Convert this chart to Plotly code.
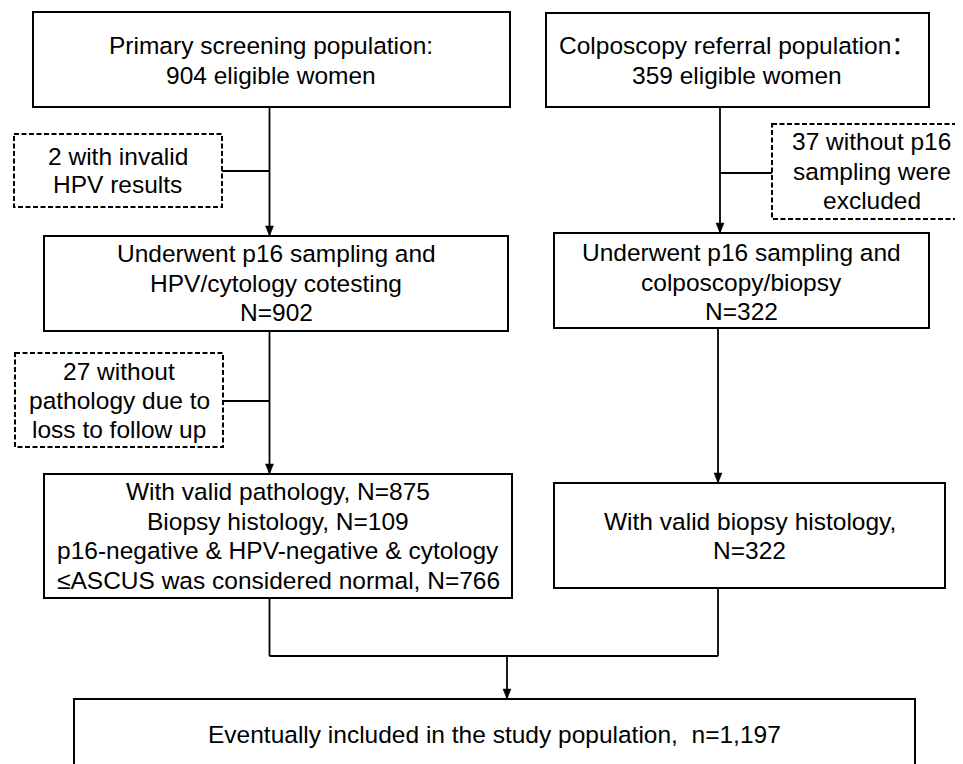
import plotly.graph_objects as go

W, H = 963, 764
OFF = 8  # page body margin offset

# ---- Flowchart content (text lines per box) ----
primary_lines = ["Primary screening population:", "904 eligible women"]
referral_lines = ["Colposcopy referral population：", "359 eligible women"]
excl1_lines = ["2 with invalid", "HPV results"]
excl2_lines = ["37 without p16", "sampling were", "excluded"]
cotest_lines = ["Underwent p16 sampling and", "HPV/cytology cotesting", "N=902"]
colpo_lines = ["Underwent p16 sampling and", "colposcopy/biopsy", "N=322"]
excl3_lines = ["27 without", "pathology due to", "loss to follow up"]
valid_left_lines = ["With valid pathology, N=875", "Biopsy histology, N=109",
                    "p16-negative & HPV-negative & cytology",
                    "≤ASCUS was considered normal, N=766"]
valid_right_lines = ["With valid biopsy histology,", "N=322"]
final_lines = ["Eventually included in the study population,  n=1,197"]

# ---- Layout geometry (pixels) ----
# box: (x0, y0, x1, y1, dashed, text_center_x, line_mid_ys, lines)
boxes = [
    (33, 12, 510, 107, False, 271, [45, 75], primary_lines),
    (546, 13, 929, 107, False, 737, [45, 75], referral_lines),
    (14, 134, 222, 207, True, 117.5, [156.5, 184.5], excl1_lines),
    (772, 124, 975, 219, True, 871.5, [141.5, 171.5, 200], excl2_lines),
    (44, 236, 508, 331, False, 276, [253, 283, 312], cotest_lines),
    (554, 233, 929, 328, False, 741.5, [252, 282, 311], colpo_lines),
    (15, 353, 223, 447, True, 119, [371.5, 400.5, 429.5], excl3_lines),
    (44, 474, 512, 598, False, 278, [491.5, 521, 550.5, 580], valid_left_lines),
    (554, 483, 945, 588, False, 749.5, [521, 550.5], valid_right_lines),
    (74, 699, 915, 780, False, 494.5, [734], final_lines),
]

# connector lines (x0, y0, x1, y1)
lines = [
    (269.5, 107, 269.5, 236),
    (222, 171, 269.5, 171),
    (720, 107, 720, 233),
    (720, 173, 772, 173),
    (269.5, 331, 269.5, 474),
    (223, 401, 269.5, 401),
    (718, 328, 718, 483),
    (269.5, 598, 269.5, 656),
    (718, 588, 718, 656),
    (269.5, 656, 718, 656),
    (507, 656, 507, 699),
]
# arrow tips (x, y)
arrows = [(269.5, 236), (720, 233), (269.5, 474), (718, 483), (507, 699)]

FONT = dict(family="Liberation Sans, Arial, Noto Sans CJK SC", size=24.5, color="#000000")

shapes = []
annotations = []
for (x0, y0, x1, y1, dashed, cx, ys, txt) in boxes:
    shapes.append(dict(type="rect", xref="x", yref="y", x0=x0, y0=y0, x1=x1, y1=y1,
                       line=dict(color="black", width=2,
                                 dash="5px,2.5px" if dashed else "solid"),
                       fillcolor="rgba(0,0,0,0)", layer="above"))
    for yy, t in zip(ys, txt):
        annotations.append(dict(x=cx, y=yy, xref="x", yref="y", text=t, showarrow=False,
                                xanchor="center", yanchor="middle", font=FONT,
                                borderpad=0))

for (x0, y0, x1, y1) in lines:
    shapes.append(dict(type="line", xref="x", yref="y", x0=x0, y0=y0, x1=x1, y1=y1,
                       line=dict(color="black", width=1.8), layer="above"))

for (ax, ay) in arrows:
    path = f"M {ax-4},{ay-10} L {ax+4},{ay-10} L {ax},{ay} Z"
    shapes.append(dict(type="path", xref="x", yref="y", path=path,
                       fillcolor="black", line=dict(color="black", width=0.5),
                       layer="above"))

fig = go.Figure()
fig.update_layout(
    width=W - OFF, height=H - OFF,
    margin=dict(l=0, r=0, t=0, b=0),
    paper_bgcolor="white", plot_bgcolor="white",
    xaxis=dict(range=[OFF, W], visible=False, fixedrange=True),
    yaxis=dict(range=[H, OFF], visible=False, fixedrange=True),
    shapes=shapes, annotations=annotations, showlegend=False,
)
fig.write_html("out.html")
